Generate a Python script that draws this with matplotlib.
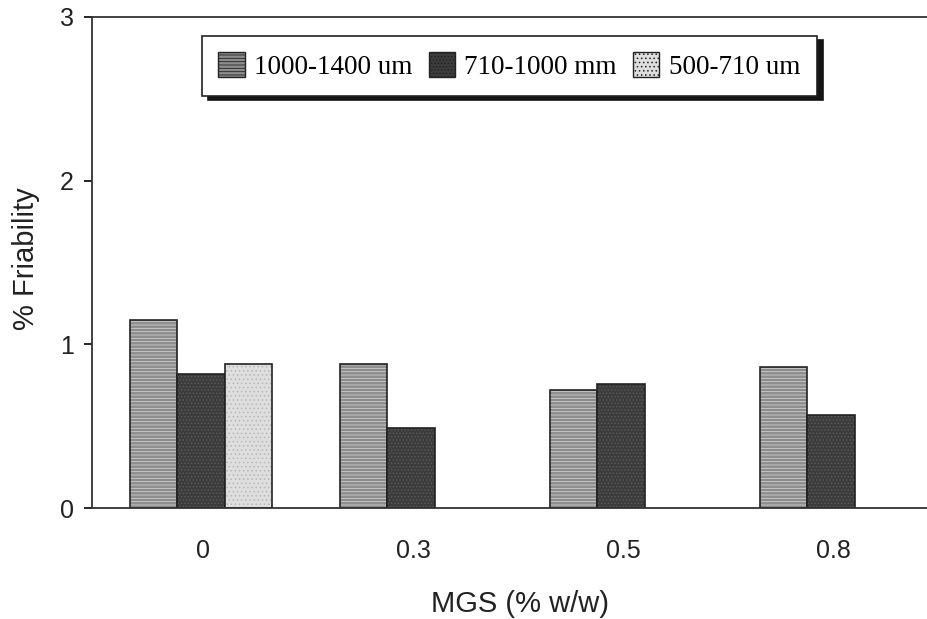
import numpy as np
import matplotlib
matplotlib.use('Agg')
import matplotlib.pyplot as plt

mgs = ['0', '0.3', '0.5', '0.8']
size_labels = ['1000-1400 um', '710-1000 mm', '500-710 um']
fri_1000_1400 = [1.15, 0.88, 0.72, 0.86]
fri_710_1000 = [0.82, 0.49, 0.76, 0.57]
fri_500_710 = [0.88, np.nan, np.nan, np.nan]

plt.rcParams['font.family'] = ['Liberation Sans', 'DejaVu Sans']
plt.rcParams['hatch.linewidth'] = 0.6
fig = plt.figure(figsize=(9.28, 6.19), dpi=100)
ax = fig.add_axes([92 / 928, 111 / 619, 1 - 92 / 928, 491 / 619])

x = np.arange(len(mgs))
w = 0.224
series = [fri_1000_1400, fri_710_1000, fri_500_710]
faces = ['#8c8c8c', '#3c3c3c', '#dedede']
hatches = ['-----', '.....', '....']
hcols = ['#d0d0d0', '#5a5a5a', '#b8b8b8']
for i, (vals, fc, h, hc) in enumerate(zip(series, faces, hatches, hcols)):
    ax.bar(x + (i - 1) * w - 0.01, vals, w, facecolor=fc, hatch=h, edgecolor=hc,
           linewidth=0, label=size_labels[i])
    ax.bar(x + (i - 1) * w - 0.01, vals, w, facecolor='none', edgecolor='#222222',
           linewidth=1.2)

ax.set_xlim(-0.529, 3.452)
ax.set_ylim(0, 3)
ax.set_yticks([0, 1, 2, 3])
ax.set_xticks(x)
ax.set_xticklabels(mgs)
ax.tick_params(axis='x', length=0, pad=22, labelsize=18, labelcolor='#222222')
ax.tick_params(axis='y', direction='out', length=6, width=1.2, pad=7,
               labelsize=18, labelcolor='#222222')
for s in ['left', 'bottom', 'top']:
    ax.spines[s].set_linewidth(1.3)
    ax.spines[s].set_color('#333333')
ax.spines['right'].set_visible(False)

ax.set_xlabel('MGS (% w/w)', fontsize=21, color='#222222')
ax.set_ylabel('% Friability', fontsize=21, color='#222222')
ax.xaxis.set_label_coords(0.512, -0.168)
ax.yaxis.set_label_coords(-0.062, 0.507)

handles, labels = ax.get_legend_handles_labels()
leg = ax.legend(handles, labels, loc='upper left', bbox_to_anchor=(0.1316, 0.961),
                ncol=3, frameon=True, fancybox=False,
                shadow={'ox': 4.5, 'oy': -3, 'facecolor': '#151515',
                        'edgecolor': '#151515', 'alpha': 1},
                prop={'family': 'Liberation Serif', 'size': 19.5},
                handlelength=0.97, handleheight=1.0, handletextpad=0.35,
                columnspacing=0.6, borderpad=0.6, borderaxespad=0)
leg.get_frame().set_edgecolor('#222222')
leg.get_frame().set_linewidth(1.2)
for h in leg.legend_handles:
    h.set_edgecolor('#222222')
    h.set_linewidth(1.0)

fig.savefig('out.png', dpi=100)
